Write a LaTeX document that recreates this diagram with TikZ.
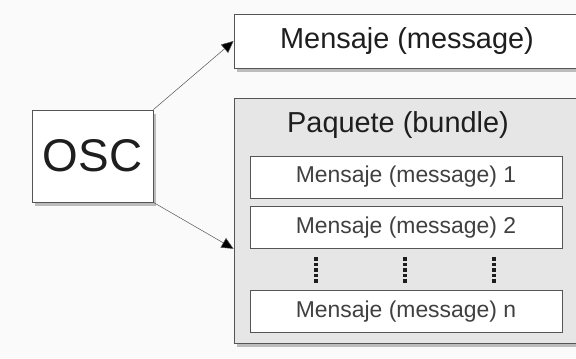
\documentclass[tikz,border=0pt]{standalone}
\usepackage{fontspec}
\setmainfont{Liberation Sans}
\usepackage{tikz}
\usetikzlibrary{shadows}
\usetikzlibrary{arrows.meta}
\definecolor{borde}{RGB}{85,85,85}
\definecolor{fondo}{RGB}{230,230,230}
\definecolor{texto}{RGB}{30,30,30}

\begin{document}
\begin{tikzpicture}[x=1bp,y=-1bp,
  caja/.style={draw=borde, fill=white, line width=0.8pt, text=texto, inner sep=0pt,
    drop shadow={shadow xshift=3pt, shadow yshift=-4pt, opacity=0.5, fill=gray}},
  interior/.style={draw=borde, fill=white, line width=0.6pt, text=texto!85!white, inner sep=0pt,
    minimum width=312bp, minimum height=42bp, font=\fontsize{23}{25}\selectfont},
  flecha/.style={draw=borde, line width=0.5pt, -{Triangle[length=12bp,width=11bp,fill=black]}}]
\useasboundingbox (0,0) rectangle (576,358);
\fill [white!98!black] (0,0) rectangle (576,358);

\node [caja, minimum width=121bp, minimum height=92bp, font=\fontsize{46}{48}\selectfont] (osc) at (92.5,156) {OSC};
\node [caja, minimum width=346bp, minimum height=54bp, font=\fontsize{29}{31}\selectfont] (mensaje) at (407,41) {Mensaje (message)\hspace{10bp}};
\node [caja, fill=fondo, minimum width=346bp, minimum height=245bp] (paquete) at (407,220.5) {};
\node [text=texto, font=\fontsize{29}{31}\selectfont] (titulo) at (398,125) {Paquete (bundle)};

\node [interior] (msga) at (406,177) {Mensaje (message) 1};
\node [interior] (msgb) at (406,227.5) {Mensaje (message) 2};
\node [interior] (msgn) at (406,311.5) {Mensaje (message) n};

% puntos suspensivos
\foreach \x in {316,405,494}
  \draw [texto, line width=4bp, dash pattern=on 3.5bp off 2bp] (\x,257) -- (\x,283);

\draw [flecha] (osc.north east) -- (mensaje.west);
\draw [flecha] (osc.south east) -- (paquete.west |- msgb.south);

\end{tikzpicture}
\end{document}
